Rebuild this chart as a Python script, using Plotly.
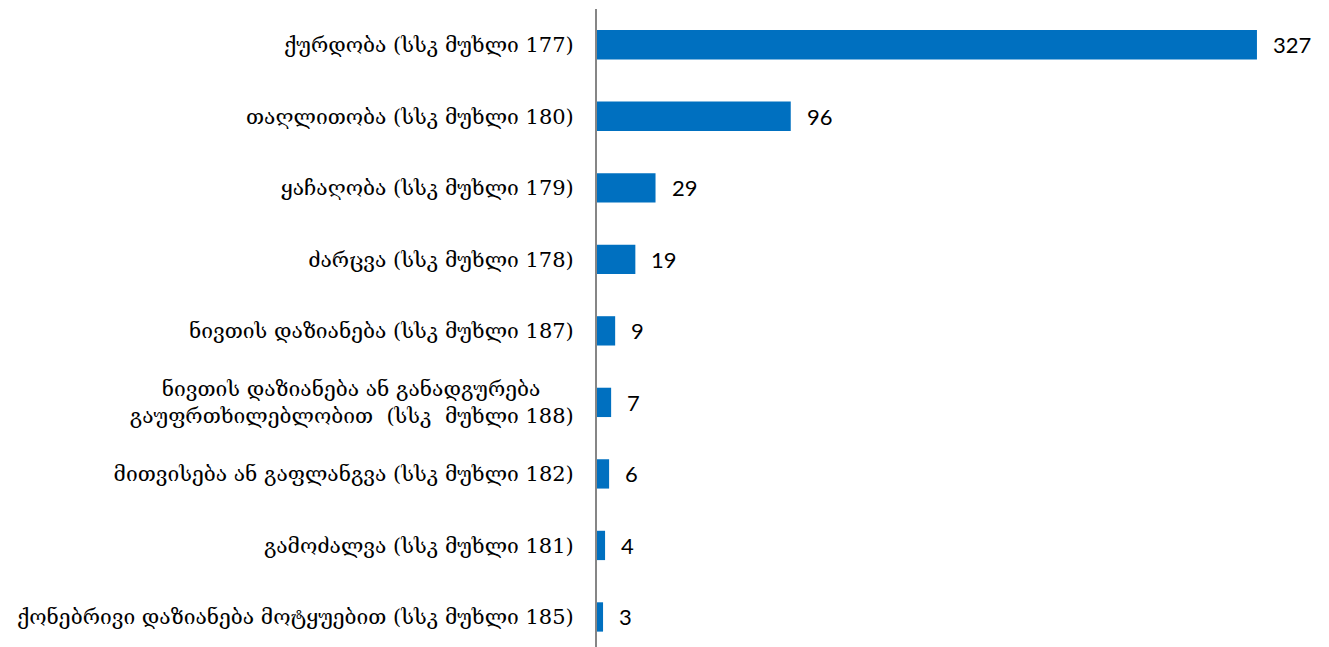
import plotly.graph_objects as go

categories = [
    "ქურდობა (სსკ მუხლი 177)",
    "თაღლითობა (სსკ მუხლი 180)",
    "ყაჩაღობა (სსკ მუხლი 179)",
    "ძარცვა (სსკ მუხლი 178)",
    "ნივთის დაზიანება (სსკ მუხლი 187)",
    "ნივთის დაზიანება ან განადგურება\u00a0\u00a0\u00a0\u00a0\u00a0<br>გაუფრთხილებლობით  (სსკ  მუხლი 188)",
    "მითვისება ან გაფლანგვა (სსკ მუხლი 182)",
    "გამოძალვა (სსკ მუხლი 181)",
    "ქონებრივი დაზიანება მოტყუებით (სსკ მუხლი 185)",
]
values = [327, 96, 29, 19, 9, 7, 6, 4, 3]

fig = go.Figure()
fig.add_trace(go.Bar(
    x=values,
    y=categories,
    orientation="h",
    marker=dict(color="#0070C0", line=dict(width=0)),
    width=0.41,
    hoverinfo="x+y",
))

for c, v in zip(categories, values):
    fig.add_annotation(
        x=v, y=c, text=str(v), showarrow=False,
        xanchor="left", yanchor="middle", xshift=14,
        font=dict(family="Lato, Open Sans, sans-serif", size=22, color="#000000"),
    )

fig.update_layout(
    width=1321, height=639,
    margin=dict(l=589, r=0, t=1, b=0),
    plot_bgcolor="white", paper_bgcolor="white",
    showlegend=False,
    font=dict(family="DejaVu Serif", size=21, color="#000000"),
)
fig.update_xaxes(
    range=[0, 362.7], showgrid=False, zeroline=False,
    showticklabels=False, showline=False, ticks="",
)
fig.update_yaxes(
    categoryorder="array", categoryarray=categories,
    range=[8.42, -0.5], showgrid=False, zeroline=False,
    showline=True, linecolor="#868686", linewidth=2,
    ticks="", ticklabelstandoff=17,
    tickfont=dict(family="DejaVu Serif", size=21, color="#000000"),
)

fig.write_html("out.html")
